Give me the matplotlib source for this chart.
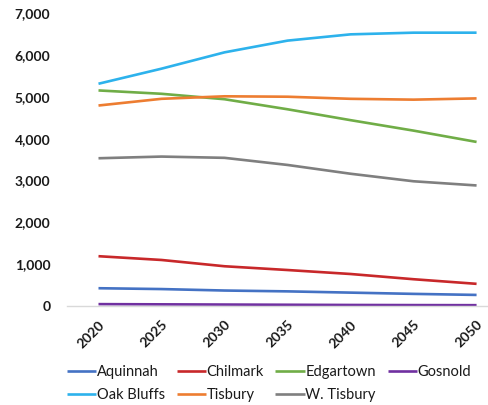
import numpy as np
import matplotlib.pyplot as plt

years = ['2020', '2025', '2030', '2035', '2040', '2045', '2050']
aquinnah = [425, 405, 370, 350, 320, 290, 265]
chilmark = [1190, 1100, 950, 860, 765, 640, 530]
edgartown = [5150, 5070, 4940, 4700, 4440, 4190, 3920]
gosnold = [45, 40, 35, 30, 25, 22, 20]
oak_bluffs = [5310, 5670, 6060, 6340, 6490, 6530, 6530]
tisbury = [4790, 4950, 5010, 5000, 4950, 4930, 4960]
w_tisbury = [3530, 3570, 3540, 3370, 3160, 2980, 2880]

series = [
    ('Aquinnah', aquinnah, '#4472C4'),
    ('Chilmark', chilmark, '#C8282A'),
    ('Edgartown', edgartown, '#70AD47'),
    ('Gosnold', gosnold, '#7030A0'),
    ('Oak Bluffs', oak_bluffs, '#2DB2EC'),
    ('Tisbury', tisbury, '#ED7D31'),
    ('W. Tisbury', w_tisbury, '#7F7F7F'),
]

plt.rcParams['font.family'] = ['Lato', 'DejaVu Sans']

fig = plt.figure(figsize=(4.89, 4.05), dpi=100)
ax = fig.add_axes([0.137, 0.2444, 0.902, 0.7235])

x = np.arange(len(years))
lines = []
for name, vals, color in series:
    ln, = ax.plot(x, vals, color=color, lw=1.9, label=name, solid_capstyle='butt')
    lines.append(ln)

ax.set_xlim(-0.5, len(years) - 0.5)
ax.set_ylim(0, 7000)
ax.set_yticks(np.arange(0, 7001, 1000))
ax.set_yticklabels([f'{v:,}' for v in range(0, 7001, 1000)],
                   fontsize=10, fontweight='bold', color='#1a1a1a')
ax.set_xticks(x)
ax.set_xticklabels(years, rotation=45, ha='right', rotation_mode='anchor',
                   fontsize=10, fontweight='bold', color='#1a1a1a')
ax.tick_params(axis='y', length=0, pad=12)
ax.tick_params(axis='x', length=0, pad=9)

for side in ['top', 'right', 'left']:
    ax.spines[side].set_visible(False)
ax.spines['bottom'].set_color('#d9d9d9')
ax.spines['bottom'].set_linewidth(1.0)

# legend fills column by column, so interleave to get row order
order = [0, 4, 1, 5, 2, 6, 3]
fig.legend([lines[i] for i in order], [series[i][0] for i in order],
           loc='upper left', bbox_to_anchor=(0.125, 0.112), ncol=4,
           frameon=False, fontsize=10.5, handlelength=2.0, handletextpad=0.05,
           columnspacing=0.8, labelspacing=0.6, borderaxespad=0,
           labelcolor='#1a1a1a')

fig.savefig('out.png', dpi=100)
